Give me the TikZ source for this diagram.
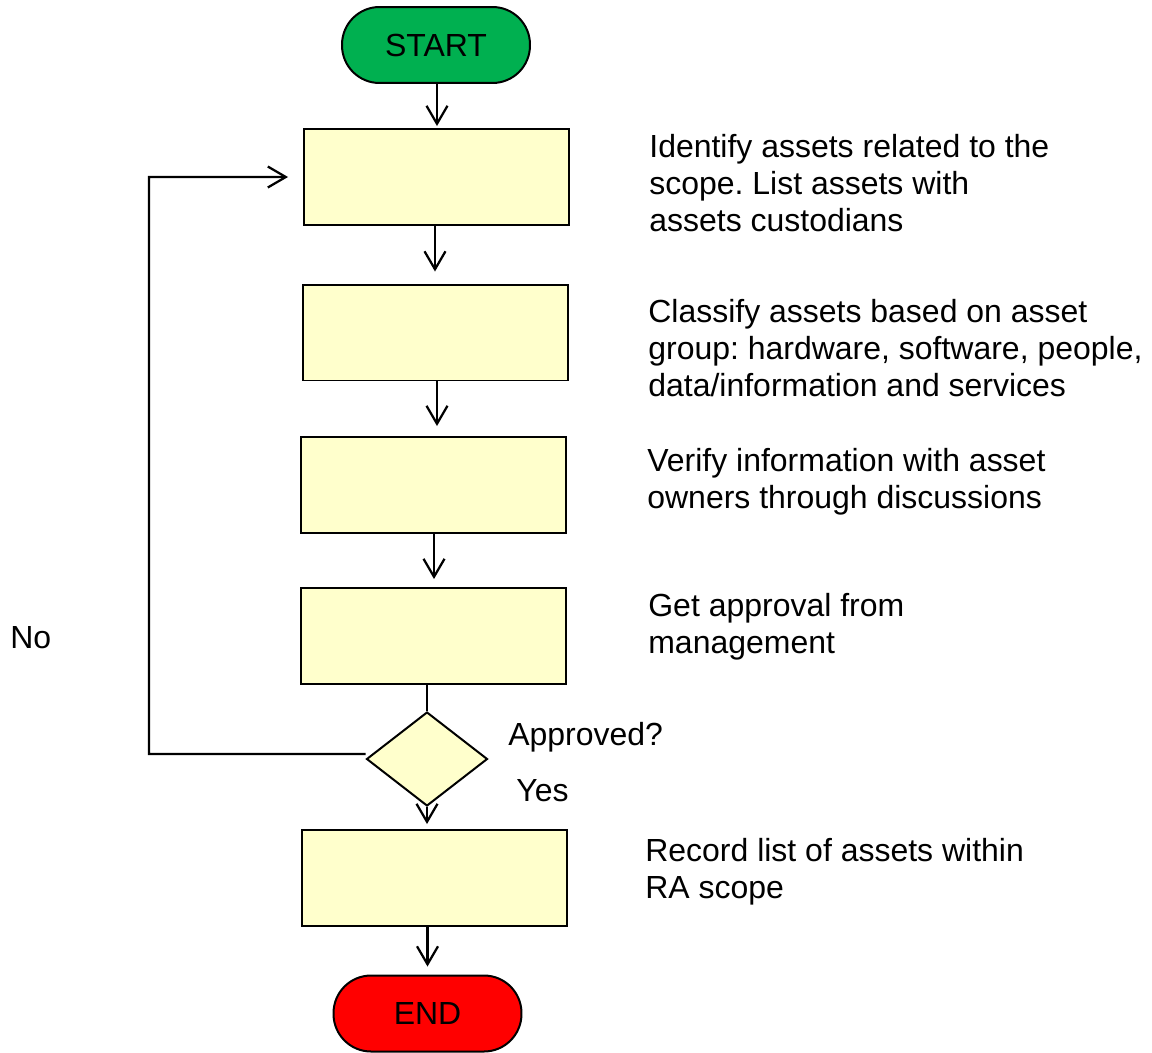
\documentclass[tikz,border=0pt]{standalone}
\usepackage{fontspec}
\setmainfont{Liberation Sans}
\usetikzlibrary{shapes.geometric,arrows.meta}
\definecolor{boxfill}{HTML}{FFFFCC}
\definecolor{startgreen}{HTML}{00B050}
\definecolor{endred}{HTML}{FF0000}
\frenchspacing
\begin{document}
\begin{tikzpicture}[x=0.02cm,y=-0.02cm,
  every node/.style={font=\fontsize{18.2pt}{20.8pt}\selectfont, text=black},
  flow/.style={line width=0.045cm, draw=black},
  arr/.style={flow, -{Straight Barb[length=0.36cm,width=0.42cm,line width=0.045cm]}},
  procbox/.style={draw=black, line width=0.04cm, fill=boxfill, minimum width=5.3cm, minimum height=1.92cm, inner sep=0pt},
  terminal/.style={draw=black, line width=0.04cm, minimum width=3.76cm, minimum height=1.52cm, rounded corners=0.75cm, inner sep=0pt},
  decision/.style={draw=black, line width=0.04cm, fill=boxfill, diamond, minimum width=2.42cm, minimum height=1.88cm, inner sep=0pt},
  note/.style={anchor=base west, inner sep=0pt, align=left}]
  \useasboundingbox (0,0) rectangle (1152,1052);
  \fill[white] (0,0) rectangle (1152,1052);

  % flow chart shapes
  \node[terminal, fill=startgreen] (start) at (436,45) {START};
  \node[procbox] (b1) at (436.5,177) {};
  \node[procbox] (b2) at (435.5,332.5) {};
  \node[procbox] (b3) at (433.5,485) {};
  \node[procbox] (b4) at (433.5,636) {};
  \node[decision] (dia) at (427,759) {};
  \node[procbox] (b5) at (434.5,878) {};
  \node[terminal, fill=endred] (end) at (427.5,1013.5) {END};

  % step descriptions (anchored at the baseline of the last line)
  \node[note] (t1) at (649,231) {Identify assets related to the\\scope. List assets with\\assets custodians};
  \node[note] (t2) at (648,396) {Classify assets based on asset\\group: hardware, software, people,\\data/information and services};
  \node[note] (t3) at (647,508) {Verify information with asset\\owners through discussions};
  \node[note] (t4) at (648,653) {Get approval from\\management};
  \node[note] (t5) at (645,898) {Record list of assets within\\RA scope};

  % decision labels
  \node[note] (lapp) at (508,745) {Approved?};
  \node[note] (lyes) at (516,801) {Yes};
  \node[note] (lno) at (10,648) {No};

  % connectors
  \coordinate (sx) at (437,0);
  \draw[arr, shorten >=0.04cm] (start.south -| sx) -- (b1.north -| sx);
  \coordinate (ax) at (435,0);
  \draw[arr, shorten >=0.24cm] (b1.south -| ax) -- (b2.north -| ax);
  \coordinate (bx) at (437,0);
  \draw[arr, shorten >=0.2cm] (b2.south -| bx) -- (b3.north -| bx);
  \coordinate (cx) at (434,0);
  \draw[arr, shorten >=0.16cm] (b3.south -| cx) -- (b4.north -| cx);
  \draw[flow] (b4.south -| dia) -- (dia.north);
  \draw[arr, shorten >=0.1cm] (dia.south) -- (b5.north -| dia);
  \draw[arr, shorten >=0.16cm] (b5.south -| end) -- (end.north);

  % rejection loop back to the first step
  \coordinate (lp) at (149,754);
  \draw[arr, shorten >=0.3cm] ([yshift=0.1cm]dia.west) -- (lp) |- (b1.west);
\end{tikzpicture}
\end{document}
